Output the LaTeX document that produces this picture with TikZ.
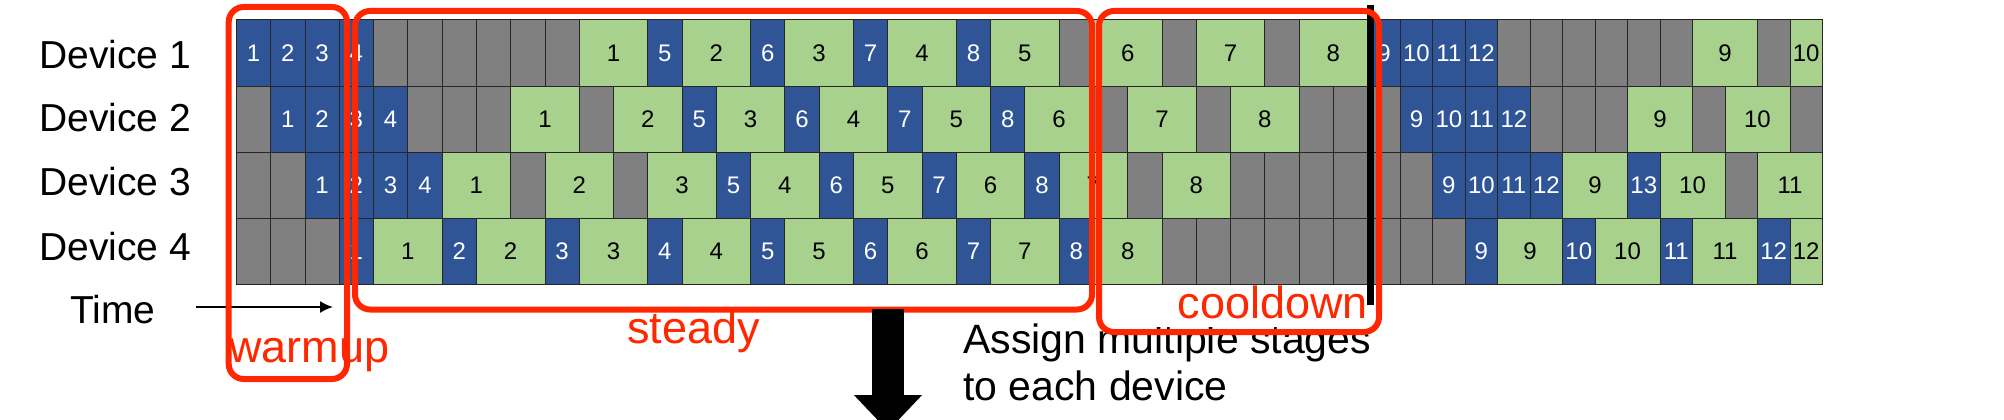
\documentclass[tikz,border=0pt]{standalone}
\usepackage{fontspec}
\setmainfont{Liberation Sans}
\usetikzlibrary{arrows.meta}
\definecolor{fwdblue}{RGB}{47,85,151}
\definecolor{bwdgreen}{RGB}{169,209,142}
\definecolor{idlegray}{RGB}{128,128,128}
\definecolor{phasered}{RGB}{255,38,0}
% one row of the schedule: name, top, left x, unit, cells (width/kind/label)
\newcommand{\schedrow}[5]{%
  \gdef\cpos{0}%
  \foreach \w/\k/\lab in {#5}{%
    \node[cell,\k,minimum width=\w*#4] (#1-\cpos) at ({#3+\cpos*#4},#2) {\lab};
    \pgfmathtruncatemacro\npos{\cpos+\w}\global\let\cpos\npos
  }}
\tikzset{
  cell/.style={draw=black!85,line width=0.8pt,anchor=north west,inner sep=0pt,
    minimum height=66.1,font=\fontsize{24}{28}\selectfont},
  fwd/.style={fill=fwdblue,text=white},
  bwd/.style={fill=bwdgreen,text=black},
  idle/.style={fill=idlegray},
  devlabel/.style={anchor=base west,inner sep=0pt,font=\fontsize{39}{48}\selectfont},
  phasebox/.style={draw=phasered,line width=6pt,rounded corners=15pt,
    anchor=north west,inner sep=0pt},
  phaselabel/.style={text=phasered,inner sep=0pt,font=\fontsize{45}{54}\selectfont},
}
\begin{document}
\begin{tikzpicture}
[x=1pt,y=-1pt]
\useasboundingbox (0,0) rectangle (2004,420);
\clip (0,0) rectangle (2004,420);

% Device labels
\node[devlabel] (dev1) at (39,68)  {Device 1};
\node[devlabel] (dev2) at (39,131) {Device 2};
\node[devlabel] (dev3) at (39,195) {Device 3};
\node[devlabel] (dev4) at (39,260) {Device 4};
\node[devlabel] (time) at (70,323) {Time};

% Schedule before the cut
\schedrow{d1}{19.5}{236}{34.28}{1/fwd/1,1/fwd/2,1/fwd/3,1/fwd/4,1/idle/{},1/idle/{},1/idle/{},1/idle/{},1/idle/{},1/idle/{},
  2/bwd/1,1/fwd/5,2/bwd/2,1/fwd/6,2/bwd/3,1/fwd/7,2/bwd/4,1/fwd/8,2/bwd/5,1/idle/{},2/bwd/6,1/idle/{},2/bwd/7,1/idle/{},2/bwd/8}
\schedrow{d2}{85.6}{236}{34.28}{1/idle/{},1/fwd/1,1/fwd/2,1/fwd/3,1/fwd/4,1/idle/{},1/idle/{},1/idle/{},2/bwd/1,1/idle/{},
  2/bwd/2,1/fwd/5,2/bwd/3,1/fwd/6,2/bwd/4,1/fwd/7,2/bwd/5,1/fwd/8,2/bwd/6,1/idle/{},2/bwd/7,1/idle/{},2/bwd/8,1/idle/{},1/idle/{}}
\schedrow{d3}{151.7}{236}{34.28}{1/idle/{},1/idle/{},1/fwd/1,1/fwd/2,1/fwd/3,1/fwd/4,2/bwd/1,1/idle/{},2/bwd/2,1/idle/{},
  2/bwd/3,1/fwd/5,2/bwd/4,1/fwd/6,2/bwd/5,1/fwd/7,2/bwd/6,1/fwd/8,2/bwd/7,1/idle/{},2/bwd/8,1/idle/{},1/idle/{},1/idle/{},1/idle/{}}
\schedrow{d4}{217.8}{236}{34.28}{1/idle/{},1/idle/{},1/idle/{},1/fwd/1,2/bwd/1,1/fwd/2,2/bwd/2,1/fwd/3,2/bwd/3,1/fwd/4,2/bwd/4,
  1/fwd/5,2/bwd/5,1/fwd/6,2/bwd/6,1/fwd/7,2/bwd/7,1/fwd/8,2/bwd/8,1/idle/{},1/idle/{},1/idle/{},1/idle/{},1/idle/{},1/idle/{}}

% Schedule after the cut
\schedrow{r1}{19.5}{1367.3}{32.48}{1/fwd/9,1/fwd/10,1/fwd/11,1/fwd/12,1/idle/{},1/idle/{},1/idle/{},1/idle/{},1/idle/{},1/idle/{},
  2/bwd/9,1/idle/{},1/bwd/10}
\schedrow{r2}{85.6}{1367.3}{32.48}{1/idle/{},1/fwd/9,1/fwd/10,1/fwd/11,1/fwd/12,1/idle/{},1/idle/{},1/idle/{},2/bwd/9,1/idle/{},
  2/bwd/10,1/idle/{}}
\schedrow{r3}{151.7}{1367.3}{32.48}{1/idle/{},1/idle/{},1/fwd/9,1/fwd/10,1/fwd/11,1/fwd/12,2/bwd/9,1/fwd/13,2/bwd/10,1/idle/{},
  2/bwd/11}
\schedrow{r4}{217.8}{1367.3}{32.48}{1/idle/{},1/idle/{},1/idle/{},1/fwd/9,2/bwd/9,1/fwd/10,2/bwd/10,1/fwd/11,2/bwd/11,1/fwd/12,
  1/bwd/12}

% Time arrow
\coordinate (tA) at (196,307);
\coordinate (tB) at (333,307);
\draw[line width=1.8pt,-{Latex[length=13pt,width=12pt]}] (tA) -- (tB);

% Text under the grid
\node[anchor=base west,inner sep=0pt,align=left,font=\fontsize{41}{47}\selectfont] (assign) at (963,400)
  {Assign multiple stages\\to each device};
\fill[white] (1099,306) rectangle (1373,327);

% Cut line
\coordinate (cutT) at (1370.5,5);
\coordinate (cutB) at (1370.5,305);
\draw[line width=6.5pt] (cutT) -- (cutB);

% Phases
\node[phasebox,minimum width=118.3,minimum height=372] (warmbox) at (225.7,4) {};
\node[phasebox,minimum width=737,minimum height=298.5] (steadybox) at (352,8) {};
\node[phasebox,minimum width=280,minimum height=321] (coolbox) at (1096,8) {};
\node[phaselabel,anchor=base west] (warm) at (229,362) {warmup};
\node[phaselabel,anchor=base west] (steady) at (627,343) {steady};
\node[phaselabel,anchor=base east] (cool) at (1368,318) {cooldown};

% Down arrow
\coordinate (dnA) at (888,309);
\coordinate (dnB) at (888,431);
\draw[line width=32pt,-{Triangle[length=36pt,width=66pt]}] (dnA) -- (dnB);
\end{tikzpicture}
\end{document}
